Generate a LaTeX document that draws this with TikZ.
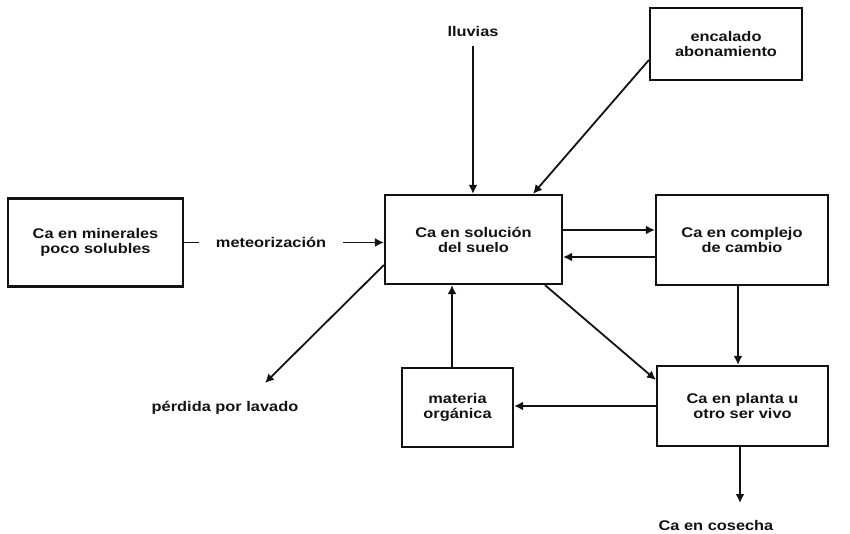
\documentclass[tikz,border=0pt]{standalone}
\usepackage{fontspec}
\setmainfont{Liberation Sans}[FakeStretch=1.17]
\usetikzlibrary{arrows.meta,positioning}
\definecolor{ink}{RGB}{18,18,18}
\tikzset{
  box/.style={draw=ink,line width=2.2pt,inner sep=0pt,align=center,font=\fontsize{14}{15}\selectfont\bfseries,text=ink},
  lbl/.style={inner sep=1pt,align=center,font=\fontsize{14}{15}\selectfont\bfseries,text=ink},
  arr/.style={-{Latex[length=9pt,width=9pt]},line width=1.8pt,draw=ink},
}
\begin{document}
\begin{tikzpicture}[x=1pt,y=-1pt]
  \useasboundingbox (0,0) rectangle (850,534);
  % boxes
  \node[box,minimum width=175pt,minimum height=88pt] (minerales) at (95.5,242.5) {Ca en minerales\\poco solubles};
  \node[box,minimum width=177pt,minimum height=89pt] (solucion) at (473.5,239.5) {Ca en solución\\del suelo};
  \node[box,minimum width=172pt,minimum height=90pt] (complejo) at (742,240) {Ca en complejo\\de cambio};
  \node[box,minimum width=152pt,minimum height=72pt] (encalado) at (726,44) {encalado\\abonamiento};
  \node[box,minimum width=111pt,minimum height=79pt] (materia) at (457.5,407.5) {materia\\orgánica};
  \node[box,minimum width=171pt,minimum height=80pt] (planta) at (742.5,406) {Ca en planta u\\otro ser vivo};

  % free labels
  \node[lbl] (lluvias) at (473,32) {lluvias};
  \node[lbl] (perdida) at (225,408) {pérdida por lavado};
  \node[lbl] (cosecha) at (716,525) {Ca en cosecha};
  \coordinate (lavado) at (265,383);
  \coordinate (cosechafin) at (740,503);

  % flows
  \draw[arr] (minerales.east) -- node[lbl,pos=0.435,fill=white,inner xsep=17pt] {meteorización} (minerales.east -| solucion.west);
  \draw[arr] ([yshift=-8pt]lluvias.south) -- (lluvias.south |- solucion.north);
  \draw[arr] ([yshift=-16pt]encalado.west) -- ([xshift=59.5pt]solucion.north);
  \draw[arr] ([yshift=9.5pt]solucion.east) -- ([yshift=9.5pt]solucion.east -| complejo.west);
  \draw[arr] ([yshift=-17pt]complejo.west) -- ([yshift=-17pt]complejo.west -| solucion.east);
  \draw[arr] ([yshift=-25.5pt]solucion.west) -- (lavado);
  \draw[arr] ([xshift=-5.5pt]materia.north) -- ([xshift=-5.5pt]materia.north |- solucion.south);
  \draw[arr] ([xshift=71.5pt]solucion.south) -- ([yshift=26pt]planta.west);
  \draw[arr] ([xshift=-4pt]complejo.south) -- ([xshift=-4pt]complejo.south |- planta.north);
  \draw[arr] (planta.west) -- (planta.west -| materia.east);
  \draw[arr] ([xshift=-2.5pt]planta.south) -- (cosechafin);
\end{tikzpicture}
\end{document}
